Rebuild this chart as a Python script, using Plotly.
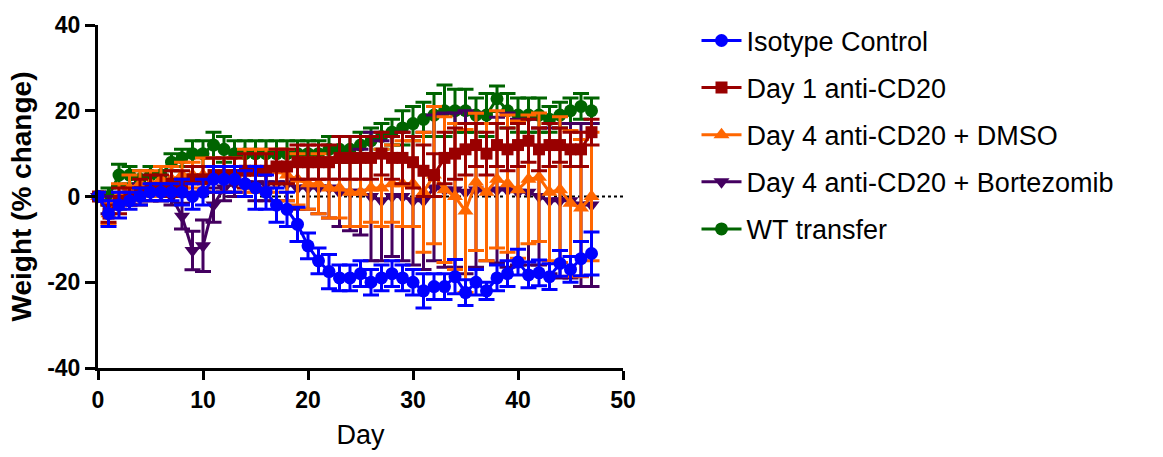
import plotly.graph_objects as go

days = list(range(48))

iso = [0, -4, -2, -1, 0, 1, 1, 1, 1, 0,
       1, 4, 4, 4, 3, 2, 1, -2, -3, -6.5,
       -11.5, -15, -17.5, -19, -19, -18, -20, -19, -18, -19,
       -20, -22, -21, -21, -18.7, -22.4, -20, -22, -19, -18,
       -15.3, -18.3, -17.8, -18.7, -15.6, -17, -14.5, -13.3]
iso_err = [1, 3, 3, 2, 2, 2, 2, 2, 3, 3,
           3, 3, 3, 3, 3, 5, 4, 4, 4, 4,
           3, 3, 4, 3, 3, 3, 3, 3, 3, 3,
           3, 4, 3, 3, 4, 3, 3, 2, 3, 3,
           3, 3, 3, 3, 3, 3, 4, 5]

d1 = [0, -4, -1, 0, 1, 2, 2, 3, 3, 4,
      4, 5, 5, 5, 6, 6, 6, 7, 7, 8,
      8, 8, 8, 9, 9, 9, 9, 10, 9, 9,
      8, 6, 5, 9, 10, 11, 12, 10, 12, 11,
      12, 13, 11, 12, 12, 11, 11, 15]
d1_err = [1, 2, 3, 2, 3, 3, 3, 3, 3, 3,
          3, 4, 4, 4, 4, 4, 4, 4, 4, 4,
          4, 4, 4, 5, 5, 5, 5, 5, 5, 6,
          6, 6, 5, 6, 6, 6, 5, 5, 5, 5,
          5, 5, 5, 5, 4, 4, 4, 3]

dmso = [0, -4, 0, 2, 3, 3, 4, 4, 5, 5,
        5, 5, 5, 5, 6, 6, 6, 6, 5, 4,
        3, 3, 2, 2, 1, 1, 2, 2, 3, 3,
        3, 1, 5, 1.6, 0, -3.4, 3.4, 1, 4, 3,
        1.6, 4, 4.5, 1, 1.6, -1.6, -2.7, 0]
dmso_err = [1, 2.5, 3, 3, 3, 3, 3, 3, 3, 3,
            4, 4, 4, 4, 5, 5, 5, 5, 6, 6,
            6, 7, 7, 7, 8, 8, 8, 9, 9, 10,
            10, 14, 16, 17, 17, 19, 16, 16, 16, 16,
            16, 15, 15, 16, 17, 17, 16, 15]

bort = [0, -2, -1, 0, 1, 1, 1, 0, -4.6, -12.6,
        -11.5, -2, 2, 3, 3, 3, 3, 3, 3, 2,
        2, 2, 2, 1, 1, 1, 0, -1, 0, 0,
        -1, -1, 2, 1.5, 1.5, 1, 1.5, 1, 1.5, 1.5,
        1, 1, 0, -1, -1, -1, -2, -2]
bort_err = [1, 2, 2, 2, 2, 2, 2, 2, 3, 4.5,
            6, 4, 3, 3, 3, 4, 4, 4, 4, 5,
            5, 6, 7, 8, 9, 10, 15, 14, 14, 15,
            15, 16, 17, 18, 18, 19, 18, 16, 17, 18,
            17, 17, 16, 17, 18, 18, 19, 19]

wt = [0, 0, 5, 5, 4, 5, 5, 8, 9, 10,
      10, 12, 11, 10, 10, 10, 10, 10, 10, 10,
      10, 10, 11, 11, 11, 12, 13, 14, 15, 16,
      17, 18, 19, 20, 20, 20, 19, 19, 22.8, 20,
      19, 19, 19, 18, 19, 20, 21, 20]
wt_err = [1, 2, 2.5, 2, 2, 2, 2, 2, 2, 3,
          3, 3, 3, 3, 3, 3, 3, 3, 3, 3,
          3, 3, 3, 3, 3, 3, 3, 3, 3, 4,
          4, 4, 5, 6, 5, 5, 4, 5, 3, 4,
          4, 4, 4, 3, 3, 3, 3, 3]

names = ["Isotype Control", "Day 1 anti-CD20", "Day 4 anti-CD20 + DMSO",
         "Day 4 anti-CD20 + Bortezomib", "WT transfer"]
x_ticks = [0, 10, 20, 30, 40, 50]
y_ticks = [-40, -20, 0, 20, 40]
y_ticktext = ["-40", "-20", "0", "20", "40"]

series = [iso, d1, dmso, bort, wt]
errors = [iso_err, d1_err, dmso_err, bort_err, wt_err]
colors = ["#0000FF", "#990000", "#FF6600", "#440060", "#006400"]
symbols = ["circle", "square", "triangle-up", "triangle-down", "circle"]
sizes = [13, 12, 14, 14, 13]

FONT = "Arial, Liberation Sans, sans-serif"

fig = go.Figure()
# dotted zero baseline
fig.add_trace(go.Scatter(x=[0, 50], y=[0, 0], mode="lines",
                         line=dict(color="black", width=2, dash="dot"),
                         showlegend=False, hoverinfo="skip"))

for i in reversed(range(5)):
    fig.add_trace(go.Scatter(
        x=days, y=series[i], name=names[i], mode="lines+markers",
        legendgroup=names[i], legendrank=i + 1,
        line=dict(color=colors[i], width=3),
        marker=dict(color=colors[i], symbol=symbols[i], size=sizes[i]),
        error_y=dict(type="data", array=errors[i], visible=True,
                     color=colors[i], thickness=3, width=8),
        cliponaxis=False,
    ))

fig.update_layout(
    width=1163, height=457,
    margin=dict(l=98, r=540, t=20, b=87),
    paper_bgcolor="white", plot_bgcolor="white",
    font=dict(family=FONT, color="black"),
    legend=dict(x=1.14, y=1.025, xanchor="left", yanchor="top",
                traceorder="grouped", tracegroupgap=9, maxheight=450,
                font=dict(size=27, family=FONT), itemwidth=40),
    xaxis=dict(range=[0, 50], tickvals=x_ticks,
               showline=True, linecolor="black", linewidth=3,
               ticks="outside", ticklen=9, tickwidth=3, tickcolor="black",
               showgrid=False, zeroline=False,
               tickfont=dict(size=23, family=FONT, weight="bold"),
               title=dict(text="Day", font=dict(size=27, family=FONT), standoff=14)),
    yaxis=dict(range=[-40, 40], tickvals=y_ticks, ticktext=y_ticktext,
               showline=True, linecolor="black", linewidth=3,
               ticks="outside", ticklen=10, tickwidth=3, tickcolor="black",
               showgrid=False, zeroline=False,
               tickfont=dict(size=23, family=FONT, weight="bold"),
               title=dict(text="Weight (% change)",
                          font=dict(size=28, family=FONT, weight="bold"), standoff=8)),
)

fig.write_html("out.html")
